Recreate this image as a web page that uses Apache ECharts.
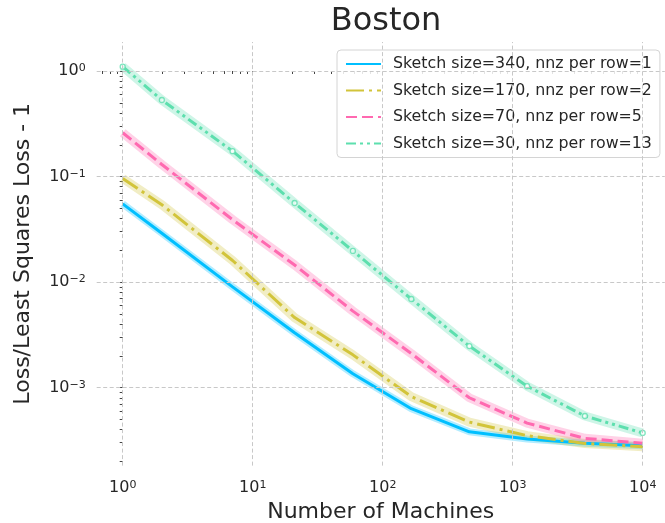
<!DOCTYPE html>
<html>
<head>
<meta charset="utf-8">
<script src="https://cdn.jsdelivr.net/npm/echarts@6/dist/echarts.min.js"></script>
<style>
  html, body { margin: 0; background: #fff; }
  #main { width: 665px; height: 523px; }
</style>
</head>
<body>
<div id="main"></div>
<script>
// data (x = number of machines, y = loss ratio - 1)
const machines = [1, 2, 7, 21, 59, 166, 464, 1291, 3593, 10000];
const loss340 = [0.055, 0.029, 0.0090, 0.0033, 0.00135, 0.00063, 0.00038, 0.000325, 0.000296, 0.000281];
const loss170 = [0.096, 0.054, 0.016, 0.0046, 0.00204, 0.00082, 0.00047, 0.00035, 0.000295, 0.000275];
const loss70  = [0.26, 0.13, 0.039, 0.0145, 0.0053, 0.0021, 0.00080, 0.00046, 0.00033, 0.000296];
const loss30  = [1.10, 0.531, 0.174, 0.0561, 0.0197, 0.0069, 0.00247, 0.00103, 0.000537, 0.000371];
const names = [
  'Sketch size=340, nnz per row=1',
  'Sketch size=170, nnz per row=2',
  'Sketch size=70, nnz per row=5',
  'Sketch size=30, nnz per row=13'
];
const colors = ['#00bfff', '#d2c43a', '#ff69b0', '#5ddfae'];
const dashes = ['solid', [18, 5, 3, 5], [11, 5], [10, 4, 3, 4, 3, 4]];
const xMajor = [0, 1, 2, 3, 4];      // log10 of tick values
const yMajor = [0, -1, -2, -3];

const font = 'DejaVu Sans';
const log = v => Math.log10(v);

// minor ticks at 2..9 x 10^d (axis decoration only)
function minors(lo, hi) {
  const out = [];
  for (let d = Math.floor(lo); d <= Math.ceil(hi); d++) {
    for (let k = 1; k <= 9; k++) {
      const t = d + Math.log10(k);
      if (t >= lo && t <= hi) out.push(t);
    }
  }
  return out;
}

const xMin = -0.2, xMax = 4.17, yMin = -3.74, yMax = 0.275;

function powLabel(v) {
  const e = Math.round(v);
  const s = e < 0 ? '\u2212' + (-e) : String(e);
  return '{b|10}{s|' + s + '}';
}
const richLab = {
  b: { fontSize: 16, fontFamily: font, color: '#262626' },
  s: { fontSize: 11, fontFamily: font, color: '#262626', verticalAlign: 'top' }
};

const allLosses = [loss340, loss170, loss70, loss30];
const series = [];

// dashed grid as markLine on an empty helper series
series.push({
  type: 'line', name: 'grid', data: [], z: 1, silent: true,
  markLine: {
    silent: true, symbol: ['none', 'none'], label: { show: false },
    lineStyle: { color: '#c8c8c8', width: 1, type: [4, 2.5] },
    data: xMajor.map(e => ({ xAxis: e })).concat(yMajor.map(e => ({ yAxis: e })))
  }
});

allLosses.forEach((arr, i) => {
  const pts = machines.map((m, j) => [log(m), log(arr[j])]);
  // shaded band around each curve
  series.push({
    type: 'line', name: 'band' + i, data: pts, z: 2, silent: true,
    symbol: 'none',
    lineStyle: { color: colors[i], width: i === 0 ? 7 : 9, opacity: 0.3, cap: 'butt' }
  });
  series.push({
    type: 'line', name: names[i], data: pts, z: 3,
    symbol: 'none',
    lineStyle: { color: colors[i], width: 3, type: dashes[i] },
    itemStyle: { color: colors[i] }
  });
});

// small hollow markers on the last curve
series.push({
  type: 'scatter', name: 'marks', z: 4, silent: true,
  data: machines.map((m, j) => [log(m), log(loss30[j])]),
  symbolSize: 5,
  itemStyle: { color: '#ffffff', borderColor: colors[3], borderWidth: 1.3 }
});

const option = {
  backgroundColor: '#ffffff',
  animation: false,
  title: {
    text: 'Boston', left: 381, top: 1, textAlign: 'center',
    textStyle: { fontFamily: font, fontSize: 32, fontWeight: 'normal', color: '#262626' }
  },
  legend: {
    data: names, orient: 'vertical', left: 337, top: 50,
    itemWidth: 35, itemHeight: 14, itemGap: 10.5,
    padding: [6, 8, 6, 8],
    borderColor: '#d4d4d4', borderWidth: 1, borderRadius: 4,
    backgroundColor: 'rgba(255,255,255,0.85)',
    itemStyle: { opacity: 0 },
    textStyle: { fontFamily: font, fontSize: 15.8, color: '#262626', padding: [0, 0, 0, 7] }
  },
  grid: { left: 96.7, right: 0.2, top: 42, bottom: 57.4, containLabel: false, outerBoundsMode: 'none' },
  xAxis: {
    type: 'value', min: xMin, max: xMax,
    name: 'Number of Machines', nameLocation: 'middle', nameGap: 36,
    nameTextStyle: { fontFamily: font, fontSize: 22, color: '#262626' },
    axisLine: { show: false },
    splitLine: { show: false },
    axisTick: { show: true, length: 3, lineStyle: { color: '#444' },
      customValues: xMajor.concat(minors(xMin, xMax)) },
    axisLabel: { customValues: xMajor, margin: 14, formatter: powLabel, rich: richLab }
  },
  yAxis: {
    type: 'value', min: yMin, max: yMax,
    name: 'Loss/Least Squares Loss - 1', nameLocation: 'middle', nameGap: 62,
    nameTextStyle: { fontFamily: font, fontSize: 22, color: '#262626' },
    axisLine: { show: false },
    splitLine: { show: false },
    axisTick: { show: true, length: 3, lineStyle: { color: '#444' },
      customValues: yMajor.concat(minors(yMin, yMax)) },
    axisLabel: { customValues: yMajor, margin: 11, formatter: powLabel, rich: richLab }
  },
  series: series
};

const chart = echarts.init(document.getElementById('main'));
chart.setOption(option);
</script>
</body>
</html>
